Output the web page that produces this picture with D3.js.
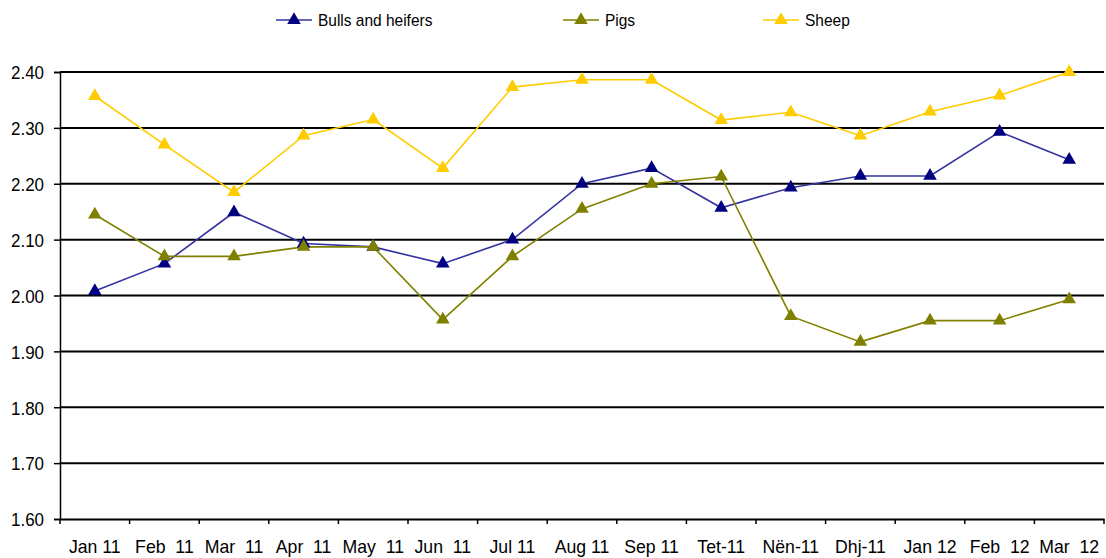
<!DOCTYPE html>
<html><head><meta charset="utf-8">
<script src="https://cdn.jsdelivr.net/npm/d3@7"></script>
<style>
body{margin:0;background:#fff;}
text{font-family:"Liberation Sans",Arial,sans-serif;fill:#000;}
</style></head>
<body><svg id="c" width="1106" height="558"></svg>
<script>
const categories = ["Jan 11","Feb  11","Mar  11","Apr  11","May  11","Jun  11","Jul 11","Aug 11","Sep 11","Tet-11","Nën-11","Dhj-11","Jan 12","Feb  12","Mar  12"];
const bulls = [2.008,2.057,2.149,2.093,2.087,2.057,2.100,2.200,2.228,2.157,2.193,2.214,2.214,2.293,2.243];
const pigs  = [2.145,2.070,2.070,2.087,2.087,1.957,2.070,2.155,2.200,2.213,1.963,1.917,1.955,1.955,1.993];
const sheep = [2.357,2.270,2.185,2.286,2.315,2.228,2.373,2.386,2.386,2.314,2.328,2.286,2.329,2.358,2.400];
const yTicks = [1.60,1.70,1.80,1.90,2.00,2.10,2.20,2.30,2.40];
const seriesNames = ["Bulls and heifers","Pigs","Sheep"];
const seriesColors = ["#000080","#808000","#FFCC00"];
const lineColors = ["#3333a0","#808000","#FFCC00"];

const svg = d3.select("#c");
const L=60, R=1104, T=72, B=519;
const x = d3.scaleBand().domain(categories).range([L,R]);
const y = d3.scaleLinear().domain([1.6,2.4]).range([B,T]);

// gridlines
svg.append("g").selectAll("line").data(yTicks.filter(v=>v>1.6)).join("line")
  .attr("x1",L).attr("x2",R).attr("y1",d=>y(d)).attr("y2",d=>y(d))
  .attr("stroke","#000").attr("stroke-width",2);

// y axis
const ya = svg.append("g").attr("transform",`translate(${L},0)`)
  .call(d3.axisLeft(y).tickValues(yTicks).tickFormat(d3.format(".2f")).tickSize(6).tickPadding(10));
ya.select(".domain").attr("stroke","#000").attr("stroke-width",1.5);
ya.selectAll(".tick line").attr("stroke","#000").attr("stroke-width",1.5);
ya.selectAll("text").style("font-size","19px").attr("dy","0.36em")
  .attr("textLength",33).attr("lengthAdjust","spacingAndGlyphs");

// x axis
const xa = svg.append("g").attr("transform",`translate(0,${B})`)
  .call(d3.axisBottom(x).tickSize(0));
xa.select(".domain").attr("stroke","#000").attr("stroke-width",2);
xa.selectAll("text").style("font-size","19px").style("white-space","pre").attr("xml:space","preserve")
  .attr("y",34).attr("dy",0);
xa.selectAll("text").each(function(){
  const w=this.getComputedTextLength();
  d3.select(this).attr("textLength",w*0.93).attr("lengthAdjust","spacingAndGlyphs");
});
svg.append("g").selectAll("line").data(categories.concat(["_end"])).join("line")
  .attr("x1",(d,i)=>L+i*x.bandwidth()).attr("x2",(d,i)=>L+i*x.bandwidth())
  .attr("y1",B).attr("y2",B+5).attr("stroke","#000").attr("stroke-width",1.5);

const data = [bulls,pigs,sheep];
const cx = c => x(c)+x.bandwidth()/2;
const tri = d3.symbol().type(d3.symbolTriangle).size(80);
const line = d3.line().x((d,i)=>cx(categories[i])).y(d=>y(d));

data.forEach((s,k)=>{
  svg.append("path").datum(s).attr("d",line).attr("fill","none")
    .attr("stroke",lineColors[k]).attr("stroke-width",1.6);
});
data.forEach((s,k)=>{
  svg.append("g").selectAll("path").data(s).join("path")
    .attr("d",tri).attr("transform",(d,i)=>`translate(${cx(categories[i])},${y(d)})`)
    .attr("fill",seriesColors[k]);
});

// legend
const legX = [276,563,763];
seriesNames.forEach((n,k)=>{
  const g = svg.append("g").attr("transform",`translate(${legX[k]},20)`);
  g.append("line").attr("x1",0).attr("x2",36).attr("y1",0).attr("y2",0)
    .attr("stroke",lineColors[k]).attr("stroke-width",1.6);
  g.append("path").attr("d",tri).attr("transform","translate(18,0)").attr("fill",seriesColors[k]);
  const t = g.append("text").attr("x",42).attr("y",0).attr("dy","0.36em").style("font-size","17px").text(n);
  const w = t.node().getComputedTextLength();
  t.attr("textLength",w*0.91).attr("lengthAdjust","spacingAndGlyphs");
});
</script></body></html>
